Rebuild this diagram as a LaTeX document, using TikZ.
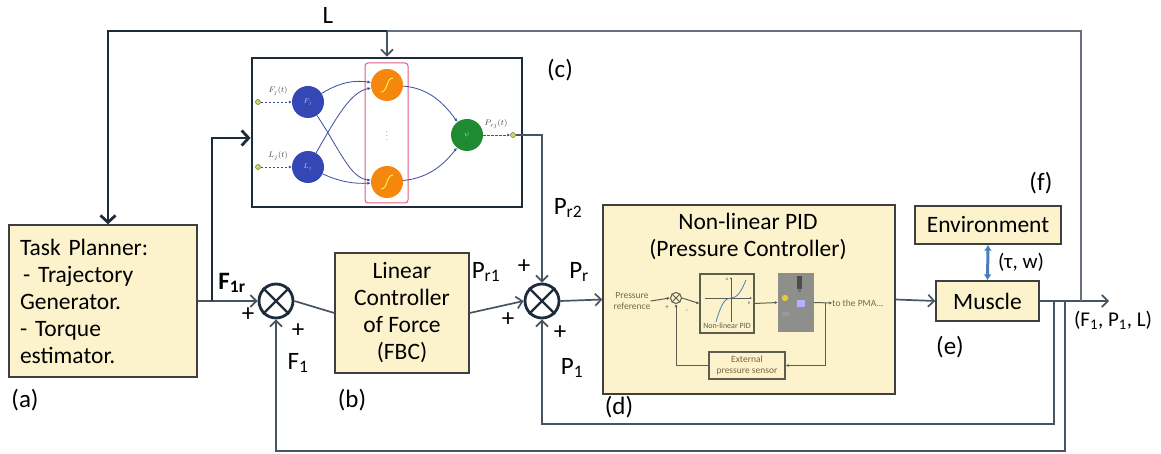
\documentclass[tikz,border=0pt]{standalone}
\usepackage{fontspec}
\setmainfont{Carlito}
\usetikzlibrary{arrows.meta}
\definecolor{boxfill}{HTML}{FCF3CD}
\definecolor{boxline}{HTML}{3F3F3F}
\definecolor{navy}{HTML}{1D2B3B}
\definecolor{lnc}{HTML}{48545F}
\definecolor{lnl}{HTML}{66717B}
\definecolor{nnb}{HTML}{3447B4}
\definecolor{nnbt}{HTML}{B8C2F2}
\definecolor{nno}{HTML}{F5860E}
\definecolor{nng}{HTML}{1E8B32}
\definecolor{nngt}{HTML}{A8D8B0}
\definecolor{nnarr}{HTML}{3D4E9C}
\definecolor{pinkc}{HTML}{DD5F80}
\definecolor{sigc}{HTML}{FFE84A}
\definecolor{dotc}{HTML}{C8D86A}
\definecolor{dotl}{HTML}{6B7A2A}
\definecolor{envarr}{HTML}{4A7EBB}
\definecolor{inl}{HTML}{5E5E50}
\definecolor{intx}{HTML}{7A6446}
\definecolor{phg}{HTML}{8E8E8A}
\newcommand\sbx[1]{\textsubscript{#1}}
\tikzset{
  box/.style={draw=boxline,line width=1.4pt,fill=boxfill,inner sep=0pt},
  thinl/.style={draw=lnc,line width=1.7pt},
  lightl/.style={draw=lnl,line width=1.7pt},
  thickl/.style={draw=navy,line width=2.8pt},
  arr/.style={-{Straight Barb[length=6pt,width=12pt]}},
  arrb/.style={-{Straight Barb[length=7pt,width=15pt]}},
  sumn/.style={circle,draw=navy,line width=2.8pt,minimum size=34pt,inner sep=0pt,fill=white},
  big/.style={font=\fontsize{23.5}{27}\selectfont},
  lbl/.style={font=\fontsize{25}{25}\selectfont,text=black,inner sep=0pt},
  nnc/.style={circle,minimum size=32pt,inner sep=0pt,draw=none,font=\fontsize{7}{7}\selectfont},
  nna/.style={draw=nnarr,line width=0.8pt,-{Latex[length=3.5pt,width=3pt]}},
  nnd/.style={draw=nnarr,line width=0.9pt,dashed,dash pattern=on 2.5pt off 1.5pt,-{Latex[length=3pt,width=3pt]}},
  sdot/.style={circle,minimum size=5pt,inner sep=0pt,fill=dotc,draw=dotl,line width=0.5pt},
  nnt/.style={font=\fontsize{8}{8}\selectfont,text=black!75,inner sep=0pt},
  inl/.style={draw=inl,line width=1pt},
  ina/.style={draw=inl,line width=1pt,-{Latex[length=3pt,width=3pt]}},
  intxt/.style={font=\fontsize{9.5}{10.5}\selectfont,text=intx,inner sep=0pt,align=center},
}
\begin{document}
\begin{tikzpicture}[x=1pt,y=-1pt]
\useasboundingbox (0,0) rectangle (1161,454);

% ---------- main blocks ----------
\node[box,big,minimum width=188,minimum height=152,text width=166,align=left] (tp) at (103,301)
  {Task Planner:\\\hspace*{3pt}- Trajectory\\Generator.\\- Torque\\estimator.};
\node[box,big,minimum width=134,minimum height=120,align=center] (lc) at (402,313)
  {Linear\\Controller\\of Force\\(FBC)};
\node[box,minimum width=292,minimum height=189] (pid) at (749,299.5) {};
\node[big,align=center,inner sep=0pt] (pidt) at (748,236) {Non-linear PID\\(Pressure Controller)};
\node[box,big,minimum width=103,minimum height=40] (mu) at (987.5,301) {Muscle};
\node[box,big,minimum width=146,minimum height=38] (env) at (988,225) {Environment};
\node[draw=navy,line width=2.8pt,fill=white,minimum width=270,minimum height=149,inner sep=0pt] (nn) at (387,132.5) {};

\node[sumn] (s1) at (276,301) {};
\node[sumn] (s2) at (542,301) {};
\foreach \s in {s1,s2}{\draw[navy,line width=2.4pt] (\s.north west) -- (\s.south east) (\s.north east) -- (\s.south west);}

% ---------- neural network (c) ----------
\draw[pinkc,line width=1pt,rounded corners=3pt] (365,63) rectangle (408,203);
\node[nnc,fill=nnb,text=nnbt] (fj) at (308,102) {$F_j$};
\node[nnc,fill=nnb,text=nnbt] (lj) at (308,167) {$L_j$};
\node[nnc,fill=nno] (o1) at (387,85) {};
\node[nnc,fill=nno] (o2) at (387,182) {};
\node[nnc,fill=nng,text=nngt] (gr) at (467,135) {$\psi$};
\foreach \o in {o1,o2}{\draw[sigc,line width=1.1pt] ([shift={(-6,7)}]\o.center) .. controls ([shift={(1,7)}]\o.center) and ([shift={(-1,-7)}]\o.center) .. ([shift={(6,-7)}]\o.center);}
\node[text=black!45,font=\fontsize{8}{8}\selectfont,inner sep=0pt] (vd) at (387,133) {$\vdots$};
\node[sdot] (ifj) at (258,102) {};
\node[sdot] (ilj) at (258,167) {};
\node[sdot] (po) at (513,135) {};
\draw[nnd] (ifj) -- (fj);
\draw[nnd] (ilj) -- (lj);
\draw[nnd] (gr) -- (po);
\node[nnt] (lfj) at (278,91) {$F_j(t)$};
\node[nnt] (llj) at (278,156) {$L_j(t)$};
\node[nnt] (lpo) at (496,124) {$P_{rj}(t)$};
\draw[nna] (fj) .. controls (340,82) and (355,80) .. (o1);
\draw[nna] (fj) .. controls (340,150) and (350,178) .. (o2);
\draw[nna] (lj) .. controls (335,120) and (350,92) .. (o1);
\draw[nna] (lj) .. controls (340,182) and (355,184) .. (o2);
\draw[nna] (o1) .. controls (430,88) and (445,105) .. (gr);
\draw[nna] (o2) .. controls (430,178) and (445,163) .. (gr);

% ---------- inside pressure controller (d) ----------
\node[intxt] (pref) at (632,301) {Pressure\\reference};
\node[circle,draw=inl,line width=1pt,minimum size=11pt,inner sep=0pt] (ss) at (676,298) {};
\draw[inl] (ss.north west) -- (ss.south east) (ss.north east) -- (ss.south west);
\node[draw=inl,line width=1.2pt,fill=boxfill,minimum width=54,minimum height=59,inner sep=0pt] (nlb) at (727,303.5) {};
\node[draw=none,fill=phg,minimum width=36,minimum height=59,inner sep=0pt] (ph) at (796,302.5) {};
\node[intxt] (pma) at (858,303) {to the PMA...};
\node[draw=inl,line width=1.2pt,minimum width=76,minimum height=27,inner sep=0pt,intxt] (eps) at (747,365.5) {External\\pressure sensor};
\node[intxt,font=\fontsize{8}{8}\selectfont,text=inl] (nlt) at (727,326) {Non-linear PID};
\node[font=\fontsize{7}{7}\selectfont,text=inl,inner sep=0pt] (pl) at (667,308) {+};
\node[font=\fontsize{7}{7}\selectfont,text=inl,inner sep=0pt] (mi) at (687,311) {-};
% axes and curve
\draw[draw=inl,line width=0.7pt,-{Latex[length=2pt,width=2pt]}] (705,298) -- (752,298);
\draw[draw=inl,line width=0.7pt,-{Latex[length=2pt,width=2pt]}] (731,322) -- (731,277);
\draw[envarr,line width=0.8pt] (716,322) .. controls (721,304) and (725,298) .. (731,298) .. controls (737,298) and (741,292) .. (746,280);
\node[font=\fontsize{5}{5}\selectfont,text=inl,inner sep=0pt] (uu) at (727,279) {u};
\node[font=\fontsize{5}{5}\selectfont,text=inl,inner sep=0pt] (ee) at (749,303) {e};
% photo details
\fill[black!70] (797,276) rectangle (802,289);
\fill[black!55] (798,289) rectangle (801,292);
\fill[white!70!blue] (797,300) rectangle (805,307);
\fill[yellow!60!brown] (785,298) circle (3.2);
\fill[black!45] (806,313) rectangle (812,318);
\fill[black!40] (782,312) rectangle (789,316);
% inner connections
\draw[ina] (pref.east) -- (ss.west);
\draw[ina] (ss.east) -- (nlb.west);
\draw[ina] (nlb.east) -- (ph.west);
\draw[ina] (ph.east) -- (pma.west);
\coordinate (jj) at (825,303);
\draw[ina] (jj) |- (eps.east);
\draw[ina] (eps.west) -| (ss.south);

% ---------- main connectors ----------
\coordinate (j1) at (212,301);
\coordinate (jP) at (1054,301);
\coordinate (jF) at (1065,301);
\coordinate (jL) at (1081,301);
\coordinate (out) at (1109,301);
\coordinate (Ltop) at (1081,31);
\coordinate (Lsplit) at (387,31);
\coordinate (Lleft) at (108,31);
\coordinate (fbot) at (1065,451);
\coordinate (pbot) at (1054,424);

\draw[thinl,arr] (tp.east) -- (s1.west);
\draw[thickl,arrb] (j1) |- ([yshift=-5.5pt]nn.west);
\draw[thinl] (s1.east) -- (lc.west);
\draw[thinl,arr] (lc.east) -- (s2.west);
\draw[thinl,arr] (po.east) -| (s2.north);
\draw[thinl,arr] (s2.east) -- (pid.west);
\draw[thinl,arr] (pid.east) -- (mu.west);
\draw[thinl,arr] (mu.east) -- (out);
\draw[lightl] (jL) -- (Ltop) -- (Lsplit);
\draw[thinl,arr] (Lsplit) -- (nn.north);
\draw[thickl,arrb] (Lsplit) -- (Lleft) -- ([xshift=5pt]tp.north);
\draw[thinl,arr] (jF) -- (fbot) -| (s1.south);
\draw[thinl,arr] (jP) -- (pbot) -| (s2.south);
\draw[envarr,line width=3pt,{Latex[length=6pt,width=8pt]}-{Latex[length=6pt,width=8pt]}] (env.south) -- (mu.north);

% ---------- labels ----------
\node[lbl] (lL) at (328,15) {L};
\node[lbl] (lF1r) at (232,283) {\textbf{F\sbx{1r}}};
\node[lbl] (lp1) at (248,315) {+};
\node[lbl] (lp2) at (298,331) {+};
\node[lbl] (lF1) at (298,363) {F\sbx{1}};
\node[lbl] (lPr1) at (486,272) {P\sbx{r1}};
\node[lbl] (lp3) at (524,267) {+};
\node[lbl] (lp4) at (508,320) {+};
\node[lbl] (lp5) at (560,333) {+};
\node[lbl] (lPr) at (579,272) {P\sbx{r}};
\node[lbl] (lPr2) at (568,208) {P\sbx{r2}};
\node[lbl] (lP1) at (572,368) {P\sbx{1}};
\node[lbl] (la) at (25,400) {(a)};
\node[lbl] (lb) at (352,400) {(b)};
\node[lbl] (lcc) at (560,70) {(c)};
\node[lbl] (ld) at (619,407) {(d)};
\node[lbl] (le) at (950,347) {(e)};
\node[lbl] (lf) at (1041,183) {(f)};
\node[lbl,font=\fontsize{21}{21}\selectfont] (ltw) at (1021,262) {(τ, w)};
\node[lbl,font=\fontsize{21}{21}\selectfont] (lout) at (1113,320) {(F\sbx{1}, P\sbx{1}, L)};
\end{tikzpicture}
\end{document}
